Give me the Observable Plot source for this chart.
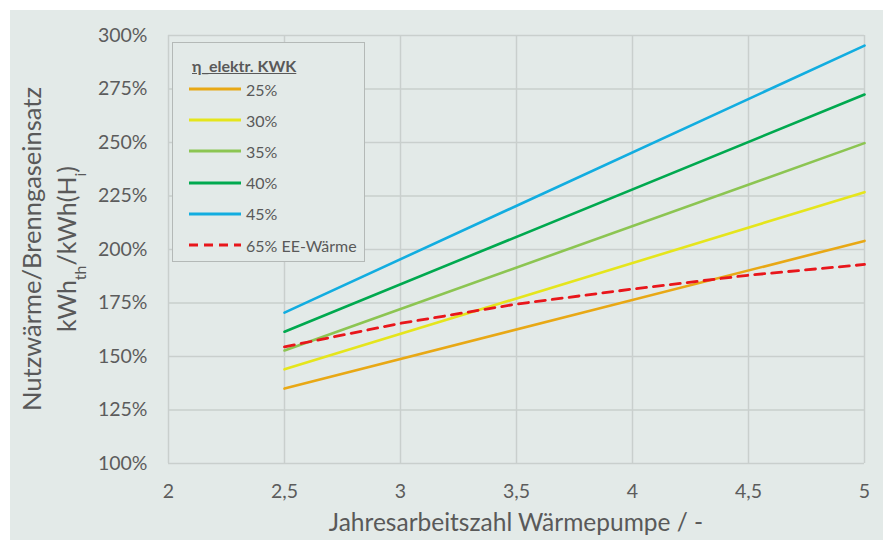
<!DOCTYPE html>
<html>
<head>
<meta charset="utf-8">
<script src="https://cdn.jsdelivr.net/npm/d3@7"></script>
<script src="https://cdn.jsdelivr.net/npm/@observablehq/plot@0.6"></script>
<style>
  html, body { margin: 0; padding: 0; background: #ffffff; }
  #frame { position: absolute; left: 10px; top: 10px; width: 873px; height: 530px; background: #e3eae8; font-family: Lato, "Open Sans", sans-serif; }
  #legend { position: absolute; left: 162px; top: 32px; width: 191px; height: 218px; border: 1.5px solid #b4b9b7; background: #e3eae8; color: #595959; }
  #legend .title { position: absolute; left: 19px; top: 13px; font-size: 16px; font-weight: bold; text-decoration: underline; }
  #legend .row { position: absolute; left: 16px; height: 20px; display: flex; align-items: center; font-size: 16px; }
  #legend .row svg { margin-right: 5px; }
</style>
</head>
<body>
<div id="frame"></div>
<script>
// ---- data ----
const xTicks = [2, 2.5, 3, 3.5, 4, 4.5, 5];
const yTicks = [100, 125, 150, 175, 200, 225, 250, 275, 300];
const seriesNames = ["25%", "30%", "35%", "40%", "45%"];
const seriesColors = ["#e8a815", "#e5e51c", "#8cc552", "#00a94f", "#12ade0"];
const jaz = [2.5, 5];
const eta25 = [135, 204];
const eta30 = [144, 226.8];
const eta35 = [152.8, 249.7];
const eta40 = [161.6, 272.4];
const eta45 = [170.5, 295.3];
const eeName = "65% EE-Wärme";
const eeJaz = [2.5, 3, 3.5, 4, 4.5, 5];
const eeValues = [154.5, 165.5, 174.5, 181.5, 188, 193];

const allSeries = [eta25, eta30, eta35, eta40, eta45];
const lineData = allSeries.flatMap((vals, i) => vals.map((v, j) => ({x: jaz[j], y: v, series: seriesNames[i]})));
const eeData = eeJaz.map((x, i) => ({x, y: eeValues[i]}));

const gridStyle = {stroke: "#c9cfcd", strokeOpacity: 1, strokeWidth: 1.5};

const chart = Plot.plot({
  width: 873,
  height: 530,
  marginLeft: 158,
  marginRight: 19,
  marginTop: 25,
  marginBottom: 77,
  style: {background: "transparent", fontFamily: "Lato, 'Open Sans', sans-serif", fontSize: "19.5px", color: "#595959", overflow: "visible"},
  x: {domain: [2, 5]},
  y: {domain: [100, 300]},
  color: {domain: seriesNames, range: seriesColors},
  marks: [
    Plot.gridX(xTicks, gridStyle),
    Plot.gridY(yTicks, gridStyle),
    Plot.axisX(xTicks, {tickSize: 0, tickPadding: 21, label: null, tickFormat: d => String(d).replace(".", ","), fill: "#5c5c5c"}),
    Plot.axisY(yTicks, {tickSize: 0, tickPadding: 21, label: null, tickFormat: d => d + "%", fill: "#5c5c5c"}),
    Plot.line(lineData, {x: "x", y: "y", z: "series", stroke: "series", strokeWidth: 2.6}),
    Plot.line(eeData, {x: "x", y: "y", stroke: "#e8161b", strokeWidth: 2.8, strokeDasharray: "10,7"})
  ]
});

const frame = document.getElementById("frame");
frame.appendChild(chart);

// axis titles with subscripts
const svg = d3.select(chart);
const cy = (25 + 453) / 2;
svg.append("text")
  .attr("x", (158 + 854) / 2)
  .attr("y", 521)
  .attr("text-anchor", "middle")
  .attr("fill", "#595959")
  .style("font-size", "24.5px")
  .text("Jahresarbeitszahl Wärmepumpe / -");
svg.append("text")
  .attr("transform", `translate(31, ${cy}) rotate(-90)`)
  .attr("text-anchor", "middle")
  .attr("fill", "#595959")
  .style("font-size", "25.5px")
  .text("Nutzwärme/Brenngaseinsatz");
const t2 = svg.append("text")
  .attr("transform", `translate(66, ${cy}) rotate(-90)`)
  .attr("text-anchor", "middle")
  .attr("fill", "#595959")
  .style("font-size", "25px");
t2.append("tspan").text("kWh");
t2.append("tspan").attr("baseline-shift", "sub").style("font-size", "16px").text("th");
t2.append("tspan").text("/kWh(H");
t2.append("tspan").attr("baseline-shift", "sub").style("font-size", "16px").text("i");
t2.append("tspan").text(")");

// legend
const legend = document.createElement("div");
legend.id = "legend";
legend.innerHTML = `<div class="title">η_elektr. KWK</div>`;
const entries = seriesNames.map((n, i) => ({name: n, color: seriesColors[i], dash: null}))
  .concat([{name: eeName, color: "#e8161b", dash: "9,6"}]);
entries.forEach((e, i) => {
  const row = document.createElement("div");
  row.className = "row";
  row.style.top = (36 + i * 31.2) + "px";
  row.innerHTML = `<svg width="52" height="6"><line x1="0" y1="3" x2="52" y2="3" stroke="${e.color}" stroke-width="3" ${e.dash ? `stroke-dasharray="${e.dash}"` : ""}/></svg><span>${e.name}</span>`;
  legend.appendChild(row);
});
frame.appendChild(legend);
</script>
</body>
</html>
